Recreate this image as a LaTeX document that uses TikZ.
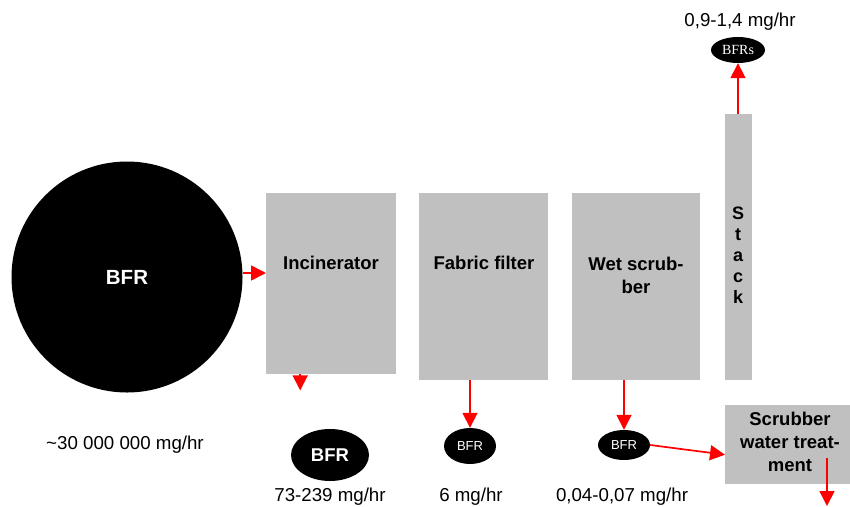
\documentclass[tikz,border=0pt]{standalone}
\usepackage{fontspec}
\setmainfont{Liberation Sans}
\newfontfamily\timesf{Liberation Serif}
\usetikzlibrary{arrows.meta,shapes.geometric}
\definecolor{boxgray}{HTML}{C0C0C0}
\begin{document}
\begin{tikzpicture}[x=1pt,y=-1pt,
  box/.style={fill=boxgray, draw=none, inner sep=0pt, anchor=north west},
  blob/.style={ellipse, fill=black, draw=none, inner sep=0pt, text=white},
  boxtext/.style={font=\fontsize{18.5}{23}\selectfont\bfseries, align=center, inner sep=0pt},
  valtext/.style={font=\fontsize{18.7}{21}\selectfont, inner sep=0pt},
  arr/.style={red, line width=1.7pt, -{Triangle[length=15pt,width=15pt]}}]
\useasboundingbox (0,0) rectangle (850,506);
% big source
\node[circle, fill=black, minimum size=231pt, inner sep=0pt, text=white,
      font=\fontsize{20.5}{24}\selectfont\bfseries] (circ) at (127,277) {BFR};
% process boxes
\node[box, minimum width=130pt, minimum height=181pt] (inc) at (266,193) {};
\node[box, minimum width=129pt, minimum height=187pt] (fab) at (419,193) {};
\node[box, minimum width=128pt, minimum height=187pt] (wet) at (572,193) {};
\node[box, minimum width=27pt, minimum height=266pt] (stack) at (725,114) {};
\node[box, minimum width=125pt, minimum height=79pt] (swt) at (725,405) {};
% box texts
\node[boxtext] (inct) at (331,263) {Incinerator};
\node[boxtext] (fabt) at (484,263) {Fabric filter};
\node[boxtext] (wett) at (636,275) {Wet scrub-\\ber};
\node[boxtext, font=\fontsize{18}{21}\selectfont\bfseries] (stackt) at (738,255) {S\\t\\a\\c\\k};
\node[boxtext] (swtt) at (790,442) {Scrubber\\water treat-\\ment};
% outputs
\node[blob, minimum width=78pt, minimum height=52pt, font=\fontsize{18.5}{21}\selectfont\bfseries] (e1) at (330,455) {BFR};
\node[blob, minimum width=52pt, minimum height=36pt, font=\fontsize{13}{15}\selectfont] (e2) at (470,446) {BFR};
\node[blob, minimum width=52pt, minimum height=30pt, font=\fontsize{13}{15}\selectfont] (e3) at (624,445) {BFR};
\node[blob, minimum width=54pt, minimum height=26pt, font=\fontsize{14}{16}\selectfont\timesf] (e4) at (738,50) {BFRs};
% values
\node[valtext] (v0) at (125,445) {\textasciitilde 30 000 000 mg/hr};
\node[valtext] (v1) at (330,496.5) {73-239 mg/hr};
\node[valtext] (v2) at (471,496.5) {6 mg/hr};
\node[valtext] (v3) at (622,496.5) {0,04-0,07 mg/hr};
\node[valtext] (v4) at (740,22) {0,9-1,4 mg/hr};
% connectors
\coordinate (swtout) at (827,506);
\draw[arr] ([yshift=4pt]circ.east) -- ([yshift=4pt]inc.west |- circ.east);
\draw[arr] ([xshift=-31pt]inc.south) -- ++(0,16);
\draw[arr] (e2.north |- fab.south) -- (e2.north);
\draw[arr] (e3.north |- wet.south) -- (e3.north);
\draw[arr] (e3.east) -- ([yshift=-10pt]swt.west);
\draw[arr] ([yshift=-13pt]swt.center -| swtout) -- (swtout);
\draw[arr] (e4.south |- stack.north) -- (e4.south);
\end{tikzpicture}
\end{document}
